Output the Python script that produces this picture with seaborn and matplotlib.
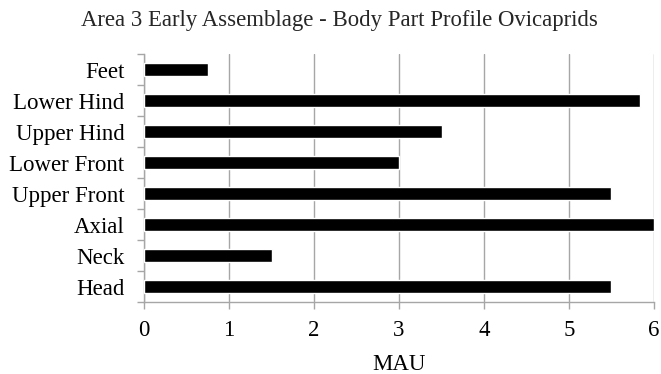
import matplotlib
matplotlib.use("Agg")
import matplotlib.pyplot as plt
from matplotlib.ticker import FixedLocator
import seaborn as sns
import pandas as pd

parts = ["Feet", "Lower Hind", "Upper Hind", "Lower Front",
         "Upper Front", "Axial", "Neck", "Head"]
mau = [0.75, 5.83, 3.5, 3.0, 5.5, 6.0, 1.5, 5.5]
x_ticks = [0, 1, 2, 3, 4, 5, 6]

df = pd.DataFrame({"part": parts, "MAU": mau})

sns.set_theme(style="white")
plt.rcParams["font.family"] = ["Liberation Serif", "DejaVu Serif"]

fig = plt.figure(figsize=(6.61, 3.74), dpi=100)
ax = fig.add_axes([0.2179, 0.1925, 0.9894 - 0.2179, 0.8556 - 0.1925])

sns.barplot(data=df, x="MAU", y="part", order=parts, orient="h",
            color="black", width=0.43, saturation=1, ax=ax, zorder=3)

grid_c = "#a6a6a6"
label_size = 16.5
ax.set_xlim(0, 6)
ax.set_ylim(len(parts) - 0.5, -0.5)
ax.set_xticks(x_ticks)
ax.set_xticklabels([str(v) for v in x_ticks])
ax.grid(axis="x", color=grid_c, linewidth=1.0, zorder=0)
ax.set_axisbelow(True)

for s in ["top", "right"]:
    ax.spines[s].set_visible(False)
for s in ["left", "bottom"]:
    ax.spines[s].set_color(grid_c)
    ax.spines[s].set_linewidth(1.0)

# category boundary ticks on the vertical axis, labels centred between them
ax.yaxis.set_minor_locator(FixedLocator([i - 0.5 for i in range(len(parts) + 1)]))
ax.tick_params(axis="y", which="major", length=0, pad=14, labelsize=label_size, colors="black")
ax.tick_params(axis="y", which="minor", length=5, width=1.0, color=grid_c, left=True)
ax.tick_params(axis="x", which="major", length=5, width=1.0, color=grid_c, bottom=True,
               pad=8, labelsize=label_size, labelcolor="black")

ax.set_ylabel("")
ax.set_xlabel("MAU", fontsize=label_size, labelpad=9, color="black")
fig.suptitle("Area 3 Early Assemblage - Body Part Profile Ovicaprids",
             fontsize=16.4, y=0.974, x=0.513)

fig.savefig("out.png", dpi=100, facecolor="white")
